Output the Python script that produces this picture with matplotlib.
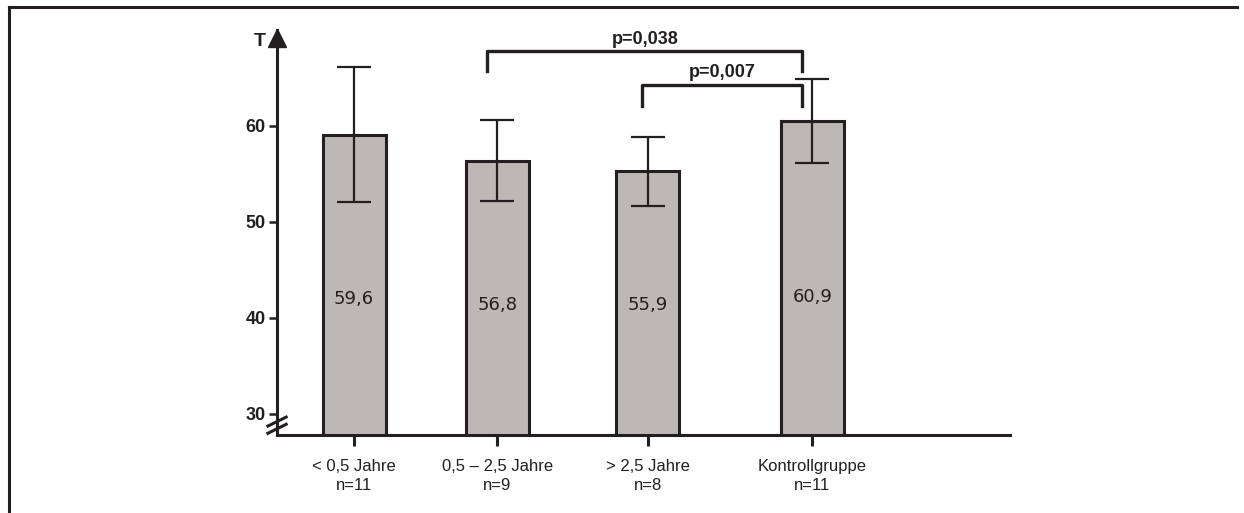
import matplotlib
matplotlib.use("Agg")
import matplotlib.pyplot as plt
from matplotlib.lines import Line2D

# data
groups = ["< 0,5 Jahre", "0,5 \u2013 2,5 Jahre", "> 2,5 Jahre", "Kontrollgruppe"]
n_labels = ["n=11", "n=9", "n=8", "n=11"]
means = [59.1, 56.4, 55.3, 60.5]
errors = [7.0, 4.2, 3.6, 4.4]
value_labels = ["59,6", "56,8", "55,9", "60,9"]
p_texts = ["p=0,038", "p=0,007"]

# layout
xpos = [1, 2, 3.05, 4.2]
ink = "#231f20"
plt.rcParams["font.family"] = ["Liberation Sans", "DejaVu Sans"]

fig = plt.figure(figsize=(12.44, 5.13), dpi=100)
ax = fig.add_axes([0.2227, 0.152, 0.589, 0.7895])

ax.bar(xpos, means, width=0.44, bottom=0, color="#bcb8b5",
       edgecolor=ink, linewidth=2.2, zorder=2)
ax.errorbar(xpos, means, yerr=errors, fmt="none", ecolor=ink,
            elinewidth=1.6, capsize=12, capthick=1.6, zorder=3)

for x, yv, lab in zip(xpos, [42.0, 41.3, 41.3, 42.2], value_labels):
    ax.text(x, yv, lab, ha="center", va="center", fontsize=13,
            family="DejaVu Sans", color=ink, zorder=4)

ax.set_xlim(0.462, 5.578)
ax.set_ylim(27.8, 70)
ax.set_yticks([30, 40, 50, 60])
ax.set_yticklabels(["30", "40", "50", "60"], fontsize=13, fontweight="bold", color=ink)
ax.set_xticks(xpos)
ax.set_xticklabels([g + "\n" + n for g, n in zip(groups, n_labels)],
                   fontsize=12, color=ink, linespacing=1.35)
ax.tick_params(axis="y", length=6, width=1.8, color=ink, pad=2)
ax.tick_params(axis="x", length=8, width=2.2, color=ink, pad=9)

for s in ["top", "right"]:
    ax.spines[s].set_visible(False)
for s in ["left", "bottom"]:
    ax.spines[s].set_linewidth(2.2)
    ax.spines[s].set_color(ink)

# arrow head and "T" on the y axis
ax.plot([0], [69.2], marker="^", ms=13, color=ink, transform=ax.get_yaxis_transform(),
        clip_on=False, zorder=5)
ax.text(-0.024, 68.8, "T", transform=ax.get_yaxis_transform(), ha="center",
        va="center", fontsize=14, fontweight="bold", color=ink)

# axis break marks
for yb in [29.2, 28.45]:
    ax.plot([-0.0125, 0.0125], [yb - 0.47, yb + 0.47], color=ink, lw=2.2,
            transform=ax.get_yaxis_transform(), clip_on=False, zorder=5)

# significance brackets
brackets = [(xpos[1] - 0.07, xpos[3] - 0.07, 67.8, 65.7),
            (xpos[2] - 0.04, xpos[3] - 0.07, 64.3, 62.1)]
for (x1, x2, ytop, ylow), txt in zip(brackets, p_texts):
    ax.plot([x1, x1, x2, x2], [ylow, ytop, ytop, ylow], color=ink, lw=2.4,
            clip_on=False, zorder=5)
    ax.text((x1 + x2) / 2, ytop + 0.35, txt, ha="center", va="bottom",
            fontsize=13, fontweight="bold", color=ink)

# frame lines on top and left
fig.add_artist(Line2D([0.0072, 0.9945], [0.9864, 0.9864], color=ink, lw=2.2))
fig.add_artist(Line2D([0.0072, 0.0072], [0.0, 0.9864], color=ink, lw=2.2))

fig.savefig("out.png", dpi=100)
